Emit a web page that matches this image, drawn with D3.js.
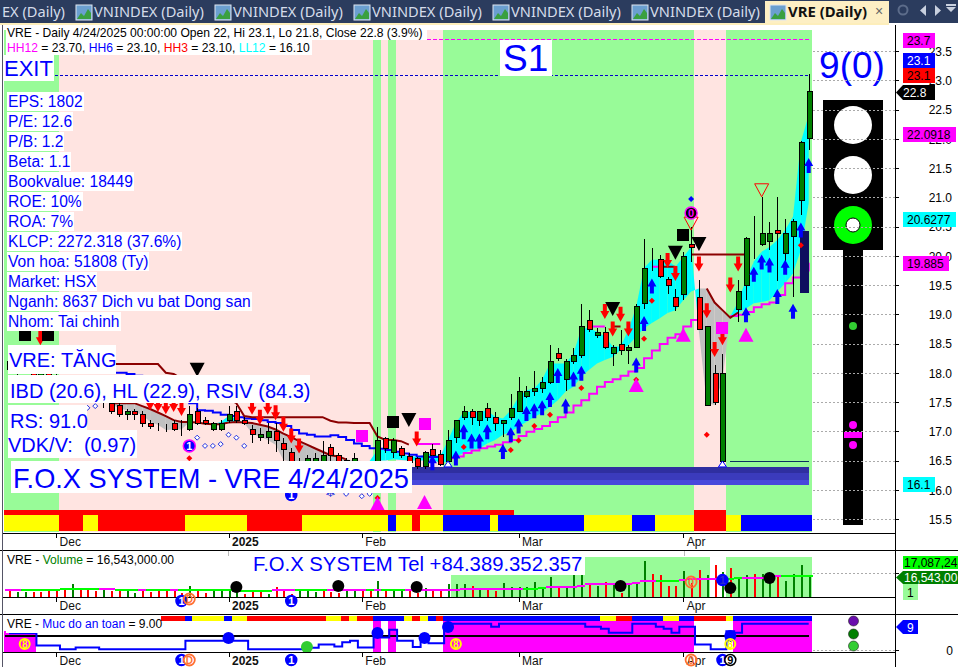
<!DOCTYPE html>
<html><head><meta charset="utf-8">
<script src="https://cdnjs.cloudflare.com/ajax/libs/d3/7.8.5/d3.min.js"></script>
<style>
html,body{margin:0;padding:0;background:#fff;overflow:hidden}
svg{display:block}
text{font-family:"Liberation Sans",Arial,sans-serif;white-space:pre}
</style></head><body>
<svg id="c" width="958" height="667" xmlns="http://www.w3.org/2000/svg"></svg>
<script>
// ---------- price series, oldest bar first (103 daily bars, 4/24/2025 is the last) ----------
const opens=[18.2,18.1,18.2,18.1,17.95,18.05,17.85,17.75,17.85,17.7,17.6,17.7,17.55,
17.48,17.44,17.29,17.34,17.29,17.14,17.03,17.03,17.14,17.03,17.03,17.34,17.19,17.03,17.03,17.19,17.34,17.19,17.03,16.9,16.9,17.0,16.79,16.64,16.45,16.38,16.38,16.38,16.72,16.58,16.5,16.4,16.45,16.4,
16.48,16.88,16.63,16.7,16.57,16.53,16.39,16.69,16.6,16.48,16.89,17.23,17.34,17.18,17.39,17.24,17.14,17.23,17.33,17.59,17.68,17.73,17.83,18.33,17.88,18.19,18.29,18.9,18.63,18.69,18.33,18.48,18.38,18.43,19.18,19.94,19.94,19.6,19.29,19.33,20.2,19.29,17.44,17.99,16.49,19.24,19.08,19.49,20.3,20.19,20.24,20.43,20.03,20.33,20.94,22];
const highs=[18.3,18.25,18.3,18.2,18.1,18.1,18,17.9,17.95,17.8,17.75,17.8,17.65,
17.55,17.5,17.38,17.38,17.34,17.2,17.14,17.12,17.19,17.2,17.44,17.4,17.24,17.16,17.2,17.44,17.44,17.24,17.1,17.05,17.14,17.14,16.88,16.72,16.55,16.6,16.62,16.83,16.79,16.62,16.55,16.62,16.5,16.5,
17.07,16.91,16.88,16.74,16.62,16.56,16.66,16.78,16.68,17.02,17.19,17.43,17.38,17.34,17.48,17.33,17.19,17.63,17.93,17.77,18.03,17.93,18.47,18.42,18.23,18.42,19.17,19.07,18.76,18.78,18.47,18.73,18.47,19.17,20.29,20.13,20.02,19.63,19.43,20.07,20.5,19.59,18.79,18.13,18.32,19.24,19.59,20.32,20.68,21,20.58,21,20.63,20.63,21.96,23.1];
const lows=[18.0,17.95,18.05,17.9,17.8,17.8,17.7,17.65,17.6,17.55,17.5,17.5,17.4,
17.3,17.25,17.2,17.2,17.08,17.04,17.0,16.98,17.0,16.92,17.0,17.1,17.1,17.0,17.0,17.14,17.14,17.1,16.8,16.83,16.79,16.65,16.5,16.4,16.3,16.3,16.3,16.3,16.5,16.35,16.35,16.35,16.35,16.3,
16.4,16.63,16.55,16.55,16.4,16.35,16.36,16.55,16.4,16.4,16.8,17.19,17.1,17.09,17.18,17.0,16.9,17.19,17.33,17.56,17.61,17.66,17.8,18.2,17.69,18.15,18.26,18.7,18.6,18.4,18.11,18.3,18.15,18.43,19.09,19.74,19.62,19.35,19.05,19.24,19.89,18.74,17.44,17.45,16.41,19.24,18.86,19.24,19.94,20.16,20.1,19.56,19.9,19.3,20.7,21.8];
const closes=[18.05,18.2,18.1,17.95,18.05,17.85,17.75,17.85,17.7,17.6,17.7,17.55,17.5,
17.34,17.29,17.34,17.29,17.14,17.08,17.03,17.03,17.03,17.03,17.29,17.14,17.14,17.14,17.14,17.29,17.19,17.14,16.95,16.95,17.0,16.85,16.69,16.48,16.38,16.54,16.54,16.58,16.58,16.42,16.4,16.54,16.42,16.45,
16.84,16.7,16.84,16.58,16.47,16.39,16.63,16.58,16.43,16.85,17.19,17.34,17.23,17.34,17.23,17.13,17.19,17.39,17.68,17.68,17.73,17.84,18.2,18.24,18.2,18.3,18.79,18.74,18.69,18.43,18.44,18.38,18.43,19.13,19.79,19.94,19.64,19.49,19.13,19.99,20.14,18.74,18.79,17.49,17.99,19.24,19.39,20.3,20.3,20.38,20.38,20.38,20.38,20.59,21.94,22.8];
// ribbon: fast and slow averages from bar 13 on
const ribFast=[null,null,null,null,null,null,null,null,null,null,null,null,null,
17.48,17.39,17.36,17.33,17.28,17.16,17.11,17.02,17.03,17.03,17.16,17.15,17.13,17.12,17.16,17.26,17.22,17.14,16.96,16.91,16.85,16.77,16.51,16.48,16.48,16.48,16.48,16.48,16.48,16.48,16.48,16.48,16.48,16.49,
16.68,16.68,16.65,16.62,16.57,16.57,16.59,16.63,16.57,16.85,17.14,17.33,17.33,17.33,17.36,17.25,17.22,17.36,17.59,17.7,17.73,17.88,18.16,18.16,18.16,18.33,18.76,18.76,18.7,18.62,18.45,18.45,18.73,19.13,19.79,19.93,19.93,19.93,19.81,19.98,20.15,18.7,17.48,17.45,17.88,18.97,19.21,19.59,19.9,20.07,20.15,20.27,20.44,20.67,21.95,22.4];
const ribSlow=[null,null,null,null,null,null,null,null,null,null,null,null,null,
17.48,17.48,17.48,17.48,17.43,17.38,17.32,17.26,17.19,17.16,17.16,17.15,17.13,17.12,17.12,17.15,17.16,17.15,17.14,17.11,17.08,17.03,16.96,16.9,16.83,16.77,16.71,16.65,16.59,16.57,16.52,16.5,16.49,16.48,
16.5,16.5,16.52,16.51,16.5,16.5,16.5,16.51,16.46,16.48,16.57,16.63,16.68,16.71,16.79,16.85,16.94,16.99,17.08,17.16,17.25,17.31,17.42,17.53,17.68,17.76,17.93,18.05,18.16,18.22,18.27,18.39,18.47,18.62,18.76,18.85,18.93,19.02,19.07,19.24,19.39,19.44,19.44,19.2,19.07,18.94,19.03,19.1,19.19,19.21,19.24,19.39,19.53,19.7,20.1,20.9];
const slowRedRuns=[[13,43],[89,93]];
// step lines
const stopLine=[18.15,18.15,18.15,18.15,18.15,18.15,18.15,18.15,18.15,18.15,18.15,18.15,18.15,
18.15,18.15,18.15,18.15,18.15,18.15,18.15,18.0,17.98,17.9,17.8,17.75,17.7,17.65,17.6,17.55,17.48,17.26,17.24,17.24,17.24,17.24,17.24,17.24,17.24,17.24,17.24,17.24,17.18,17.15,17.15,17.14,17.14,17.14,
16.91,16.85,16.85,16.83,16.77,null,null,null,null,null,null,null,null,null,null,null,null,null,null,null,null,null,null,null,null,null,null,null,null,null,18.79,18.79,null,null,null,null,19.81,19.81,19.81,null,20.02,20.02,20.02,20.02,20.02,20.02,20.02,20.02,null,null,null,null,null,null,null,null];
const stepMagenta=[null,null,null,null,null,null,null,null,null,null,null,null,null,null,null,null,null,null,null,null,null,null,null,null,null,null,null,null,null,null,null,null,null,null,null,null,null,null,null,null,null,null,null,null,null,null,null,
null,null,null,null,null,16.78,16.78,16.78,16.78,null,null,null,null,null,null,null,null,null,null,null,null,null,null,null,null,null,null,18.79,18.79,18.79,null,null,null,null,null,19.81,19.81,null,null,null,null,null,null,null,null,null,null,null,null,null,null,null,null,null,null,null];
const trailMagenta=[null,null,null,null,null,null,null,null,null,null,null,null,null,null,null,null,null,null,null,null,null,null,null,null,null,null,null,null,null,null,null,null,null,null,null,null,null,null,null,null,null,null,null,null,null,null,null,
null,null,null,null,null,null,null,null,null,16.54,16.57,16.63,16.67,16.71,16.74,16.77,16.81,16.85,16.92,16.99,17.04,17.09,17.16,17.24,17.32,17.44,17.53,17.64,17.76,17.84,17.89,17.95,18.02,18.08,18.25,18.38,18.49,18.6,18.66,18.79,18.9,18.95,null,null,null,18.97,18.99,19.04,19.12,19.17,19.2,19.33,19.53,19.63,19.75,19.88];
const blueLine=[18,18,18,18,18,18,18,18,18,18,18,18,18,18,18,17.98,17.95,17.9,17.85,17.8,17.72,17.63,17.55,17.48,17.36,17.35,17.32,17.28,17.26,17.24,17.22,17.21,17.19,17.16,17.14,17.09,17.02,16.96,16.94,16.91,16.91,16.93,16.9,16.85,16.79,16.75,16.71,
16.7,16.68,16.65,16.62,16.6,16.57,16.56,16.56,16.56];
// volume, millions
const volumes=[5,4.1,4.1,4.1,4.1,6.6,5.8,5.8,10.7,5.8,5.8,4.9,6.6,5,5,5.8,3.3,5.8,4.1,5.8,5.8,5,3.3,9.1,5.8,3.3,5.8,5.8,5.8,5.8,2.5,5,4.1,2.5,8.3,5.8,2.5,6.6,6.6,
4.1,6.6,3.8,3.3,6.6,5,5,6.6,13.2,6.6,5.8,6.6,6.6,3.3,7.4,6.6,6.6,10.7,10.7,10.7,9.1,7.4,5.8,5,11.6,8.3,8.3,8.3,12.4,8.3,16.5,8.3,8.3,18.2,18.2,11.6,9.1,12.4,11.6,
3.6,11.3,10.7,29.8,19,18.2,9,9,21.5,11.3,22.3,18.2,26.4,20.4,23.7,15.5,18.2,18.8,18.8,11.6,18.2,13.2,18.8,26.4,16.5];
const volUpFlags=[0,1,1,0,0,0,0,0,1,0,0,0,1,0,0,1,1,0,0,0,0,0,0,1,0,0,1,1,1,1,0,0,0,1,0,0,0,1,1,
1,0,0,0,1,1,0,0,1,0,1,1,0,0,1,0,0,1,1,1,0,1,0,0,1,1,1,1,1,1,1,0,1,1,1,0,1,0,1,0,1,1,1,0,0,0,0,1,0,0,1,0,1,0,1,1,0,1,1,0,1,1,1,1];
const volMA=[5.5,5.5,5.5,5.7,5.9,5.9,6,6.2,6.4,6.4,6.6,6.8,6.8,6.6,5.9,5.7,5.7,5.7,6,6,5.9,5.7,5.9,6,6,6,6,6,6,5.2,5.2,5.2,5.2,5.2,5.7,5.7,5.7,5.7,5.9,6,6,6,6,6,6,5.9,5.9,
6,5.9,6,6,6,6,5.9,5.9,5.9,5.9,6,6.2,6.6,6.6,6.6,6.6,6.6,6.6,6.8,6.8,6.8,7.1,8.3,8.3,8.3,8.3,9.5,10.7,10.7,10.7,10.7,10.7,10.7,11.5,13.2,13.4,13.4,13.5,13.5,14,14.5,14.5,15,15,15,15,15.5,16,16,16,16,17.6,17.3,17.1,17.1,17.09];
const maGreenRuns=[[2,8],[9,11],[14,16],[18,20],[22,28],[30,33],[37,40],[46,46],[48,50],[66,68],[83,85],[92,93],[99,102]];
// safety level pane
const safety=[5.8,5.8,5.8,5.8,1.7,1.7,1.7,0.5,0.5,1.1,1.1,1.1,0.5,0.5,0.5,0.5,0.5,0.5,0.5,0.5,0.5,0.5,0.5,3.3,3.3,3.3,3.3,3.3,3.3,3.3,3.3,0.5,0.5,0.5,0.5,0.5,0.5,0.5,1,1,2.1,2.1,1.4,2.8,3.3,1.1,1.1,5.8,4.4,7,3.3,3.3,1.2,4.4,2.5,2.5,
9,9,9,9,9,9,8,9,9,9,9,9,9,9,9,9,9,9,8,8,7.3,6,6,6,9,9,9,8,7.3,6,8,8,2.1,2.1,0.45,0.45,6.5,6,9,9,9,9,9,9,9,9,9];
const safetyLevel=5;
// band runs: [from, to, colour name], edges between bars
const bgRuns=[[-1,6,"g"],[6,46,"p"],[46,47,"g"],[47,48,"p"],[48,49,"g"],[49,55,"p"],[55,87,"g"],[87,91,"p"],[91,102,"g"]];
const strip1=[[-1,64,"r"],[87,91,"r"]];
const strip2=[[-1,6,"y"],[6,9,"r"],[9,11,"y"],[11,22,"r"],[22,30,"y"],[30,37,"r"],[37,48,"y"],[48,49,"b"],[49,51,"y"],[51,52,"r"],[52,55,"y"],[55,61,"b"],[61,62,"y"],[62,73,"b"],[73,79,"y"],[79,82,"b"],[82,87,"y"],[87,91,"r"],[91,93,"y"],[93,102,"b"]];
const strip3=[[19,22,"r"],[22,23,"b"],[23,27,"y"],[27,28,"b"],[28,30,"y"],[30,40,"r"],[40,42,"y"],[42,43,"r"],[43,44,"y"],[44,46,"r"],[46,50,"b"],[50,51,"y"],[51,52,"r"],[52,53,"y"],[53,54,"b"],[54,55,"r"],[55,75,"b"],[75,77,"y"],[77,79,"r"],[79,83,"b"],[83,85,"y"],[85,87,"b"],[87,91,"r"],[91,92,"y"],[92,102,"b"]];
const volBgRuns=[[56,89],[91,102]];
const safetyFillRuns=[[-1,3,6.5],[46,47,10],[48,49,10],[55,87,10],[92,102,10]];
// markers: [bars ago, value]
const upArrows=[[48,16.59],[45,16.67],[44,17.12],[43,16.96],[42,16.96],[41,17.12],[39,16.78],[38,17.07],[37,17.22],[36,17.43],[35,17.48],[34,17.53],[33,17.67],[32,18.08],[31,17.56],[30,18.02],[29,18.12],[22,18.26],[21,18.97],[20,19.61],[8,19.12],[7,19.81],[6,20.02],[5,19.97],[4,19.43],[3,19.93],[2,19.18],[1,20.57],[0,21.67]];
const downArrows=[[98,18.47],[84,17.36],[83,17.33],[82,17.29],[81,17.33],[80,17.26],[71,17.28],[70,17.11],[69,17.28],[68,17.19],[67,16.99],[66,16.79],[65,16.62],[50,16.74],[26,18.92],[25,18.62],[24,18.87],[23,18.62],[18,19.79],[17,19.57],[14,19.73],[13,18.93],[12,18.27],[11,18.47],[10,19.37],[9,19.73]];
const redDots=[[79,16.54],[55,15.86],[44,16.73],[38,16.68],[37,16.84],[35,17.09],[33,17.28],[29,17.74],[22,17.88],[21,18.58],[20,19.23],[13,16.94],[1,20.18]];
const hollowDiamonds=[[92,17.4],[91,17.43],[79,16.78],[78,16.89],[77,16.75],[76,16.75],[75,16.78],[74,16.94],[73,16.89],[72,16.75],[59,15.93],[57,15.89],[56,15.93]];
const blackDown=[[78,18.17],[51,17.31],[25,19.21],[17,20.17],[14,20.32]];
const blackSquares=[[100,18.65],[97,18.65],[53,17.16],[16,20.35]];
const magentaSquares=[[57,16.92],[49,17.12],[11,18.77]];
const magentaUp=[[55,15.64],[49,15.67],[22,17.67],[16,18.53],[8,18.53]];
const redHollowDown=[[15,20.66],[6,21.23]];
const volDots=[[73,8.3],[60,9],[50,8.3],[24,9.1],[10,7.4],[5,15.7]];
const safetyBlue=[[74,4.2],[55,5.9],[49,4.2],[46,7.9],[10,4.9]];
const safetyEight=[[100,2.2],[45,2.2],[10,2.2]];
// axis
const priceTicks=[15.5,16,16.5,17,17.5,18,18.5,19,19.5,20,20.5,21,21.5,22,22.5,23,23.5];
const monthBars=[6,28,45,65,86];
const monthLabels=["Dec","2025","Feb","Mar","Apr"];
const infoRows=["EPS: 1802","P/E: 12.6","P/B: 1.2","Beta: 1.1","Bookvalue: 18449","ROE: 10%","ROA: 7%","KLCP: 2272.318 (37.6%)","Von hoa: 51808 (Ty)","Market: HSX","Nganh: 8637 Dich vu bat Dong san","Nhom: Tai chinh"];
const tabLabels=["VNINDEX (Daily)","VNINDEX (Daily)","VNINDEX (Daily)","VNINDEX (Daily)","VNINDEX (Daily)"];

const N=opens.length;
const pal={g:"#98fb98",p:"#ffe4e1",r:"#ff0000",y:"#ffff00",b:"#0000ff"};
const svg=d3.select("#c");
const x=d3.scaleLinear().domain([0,102]).range([9,808.7]);
const ago=k=>x(102-k);
const edge=e=>x(e+0.4);
const yP=d3.scaleLinear().domain([15.5,23.5]).range([519,51]);
const yV=d3.scaleLinear().domain([0,10]).range([597,584.9]);
const yS=d3.scaleLinear().domain([0,9]).range([650.7,623.7]);
const L=(g,x1,y1,x2,y2,c,w,dash)=>g.append("line").attr("x1",x1).attr("y1",y1).attr("x2",x2).attr("y2",y2).attr("stroke",c).attr("stroke-width",w||1).attr("stroke-dasharray",dash||null).attr("shape-rendering","crispEdges");
const T=(g,s,tx,ty,size,fill,opts={})=>g.append("text").attr("x",tx).attr("y",ty).attr("font-size",size).attr("fill",fill).attr("font-weight",opts.bold?"bold":null).attr("text-anchor",opts.anchor||"start").attr("xml:space","preserve").text(s);
const crisp=s=>s.attr("shape-rendering","crispEdges");

function runs(g,data,y,h){crisp(g.selectAll(null).data(data).join("rect").attr("x",d=>edge(d[0])).attr("width",d=>edge(d[1])-edge(d[0])).attr("y",y).attr("height",h).attr("fill",d=>pal[d[2]]));}

// ---------- main pane ----------
const main=svg.append("g");
runs(main,bgRuns,30,502);
// ribbon
const ribG=main.append("g");
const idx=d3.range(N);
const area=d3.area().x(i=>x(i)).y0(i=>yP(ribFast[i])).y1(i=>yP(ribSlow[i]));
idx.slice(0,-1).forEach(i=>{
  if(ribFast[i]==null||ribFast[i+1]==null)return;
  const up=(ribFast[i]+ribFast[i+1])>=(ribSlow[i]+ribSlow[i+1]);
  ribG.append("path").attr("d",area([i,i+1])).attr("fill",up?"#00ffff":"#c0c0c0");
});
// lines
const lineOf=(arr,curve)=>d3.line().defined(i=>arr[i]!=null).x(i=>x(i)).y(i=>yP(arr[i])).curve(curve||d3.curveStepAfter);
const linesG=main.append("g").attr("fill","none");
linesG.append("path").attr("d",lineOf(blueLine)(d3.range(blueLine.length))).attr("stroke","#0000ff").attr("stroke-width",2);
linesG.append("path").attr("d",lineOf(trailMagenta)(idx)).attr("stroke","#ff00ff").attr("stroke-width",2);
slowRedRuns.forEach(r=>linesG.append("path").attr("d",d3.line().x(i=>x(i)).y(i=>yP(ribSlow[i])).curve(d3.curveLinear)(d3.range(r[0],r[1]+1))).attr("stroke","#8b0000").attr("stroke-width",2));
linesG.append("path").attr("d",d3.line().defined(i=>stopLine[i]!=null).x(i=>x(i)).y(i=>yP(stopLine[i])).curve(d3.curveLinear)(idx)).attr("stroke","#8b0000").attr("stroke-width",2);
linesG.append("path").attr("d",d3.line().defined(i=>stepMagenta[i]!=null).x(i=>x(i)).y(i=>yP(stepMagenta[i])).curve(d3.curveLinear)(idx)).attr("stroke","#ff00ff").attr("stroke-width",2);
// dashed levels and band
L(main,313,Math.round(yP(23.7))+.5,810,Math.round(yP(23.7))+.5,"#ff00ff",1.5,"4,2");
L(main,55,Math.round(yP(23.1))+1.5,808,Math.round(yP(23.1))+1.5,"#0000cc",1,"3,2");
L(main,730,yP(16.49),809,yP(16.49),"#0b3060",1);
const bandColors=["#2f2fa0","#3b3bbc","#4848dc"];
const bandTops=[16.39,16.28,16.17,16.08];
crisp(main.selectAll(null).data(bandColors).join("rect").attr("x",412).attr("width",397).attr("y",(d,i)=>yP(bandTops[i])).attr("height",(d,i)=>yP(bandTops[i+1])-yP(bandTops[i])).attr("fill",d=>d));
crisp(main.append("rect").attr("x",800).attr("width",9).attr("y",yP(20.42)).attr("height",yP(19.36)-yP(20.42)).attr("fill","#0f0f5f"));
// candles
const cG=main.append("g");
crisp(cG.selectAll("line.w").data(idx).join("line").attr("class","w").attr("x1",i=>Math.round(x(i))+.5).attr("x2",i=>Math.round(x(i))+.5).attr("y1",i=>yP(highs[i])).attr("y2",i=>yP(lows[i])).attr("stroke","#000"));
crisp(cG.selectAll("rect.b").data(idx).join("rect").attr("class","b").attr("x",i=>Math.round(x(i))-2).attr("width",5).attr("y",i=>yP(Math.max(opens[i],closes[i]))).attr("height",i=>Math.abs(yP(opens[i])-yP(closes[i]))).attr("fill",i=>closes[i]>opens[i]?"#008000":(closes[i]<opens[i]?"#ff0000":"#000")).attr("stroke","#000"));
// marker shapes
const upPath=(cx,ty)=>`M${cx},${ty}l4.5,8h-2.5v7h-4v-7h-2.5z`;
const downPath=(cx,by)=>`M${cx},${by}l4.5,-8h-2.5v-7h-4v7h-2.5z`;
const mG=main.append("g");
mG.selectAll(null).data(upArrows).join("path").attr("d",d=>upPath(ago(d[0]),yP(d[1]))).attr("fill","#0000ff");
mG.selectAll(null).data(downArrows).join("path").attr("d",d=>downPath(ago(d[0]),yP(d[1]))).attr("fill","#ff0000");
const diamond=(cx,cy,r)=>`M${cx},${cy-r}L${cx+r},${cy}L${cx},${cy+r}L${cx-r},${cy}Z`;
mG.selectAll(null).data(redDots).join("path").attr("d",d=>diamond(ago(d[0]),yP(d[1]),3)).attr("fill","#ff0000");
mG.selectAll(null).data(hollowDiamonds).join("path").attr("d",d=>diamond(ago(d[0]),yP(d[1]),2.5)).attr("fill","#fff").attr("stroke","#2030e0");
mG.selectAll(null).data(blackDown).join("path").attr("d",d=>`M${ago(d[0])-7.5},${yP(d[1])}h15l-7.5,14z`).attr("fill","#000");
crisp(mG.selectAll(null).data(blackSquares).join("rect").attr("x",d=>ago(d[0])-6).attr("y",d=>yP(d[1])-6).attr("width",12).attr("height",12).attr("fill","#000"));
crisp(mG.selectAll(null).data(magentaSquares).join("rect").attr("x",d=>ago(d[0])-6).attr("y",d=>yP(d[1])-6).attr("width",12).attr("height",12).attr("fill","#ff00ff"));
mG.selectAll(null).data(magentaUp).join("path").attr("d",d=>`M${ago(d[0])-7.5},${yP(d[1])}h15l-7.5,-14z`).attr("fill","#ff00ff");
mG.selectAll(null).data(redHollowDown).join("path").attr("d",d=>`M${ago(d[0])-7},${yP(d[1])}h14l-7,13z`).attr("fill","none").attr("stroke","#ff0000");
function badge(g,cx,cy,txt,fill,stroke,color,r){
  g.append("circle").attr("cx",cx).attr("cy",cy).attr("r",r||5.5).attr("fill",fill).attr("stroke",stroke).attr("stroke-width",1.5);
  T(g,txt,cx,cy+4,11,color,{bold:true,anchor:"middle"});
}
mG.append("path").attr("d",diamond(ago(15),yP(20.97),3)).attr("fill","#0000ff");
badge(mG,ago(15),yP(20.73),"0","#000","#ff00ff","#ff00ff",6);
badge(mG,ago(79),yP(16.75),"1","#0000ff","#ff00ff","#fff",6);
badge(mG,ago(66),yP(15.91),"1","#0000ff","#0000ff","#fff");
T(mG,"❄",ago(61),yP(15.87),13,"#2030e0",{anchor:"middle"});
mG.append("path").attr("d",`M${ago(11)-4},${yP(16.39)}l4,-6l4,6z`).attr("fill","#fff").attr("stroke","#0000ff");
mG.append("path").attr("d",`M${ago(46)-4},${yP(16.39)}l4,-6l4,6z`).attr("fill","#fff").attr("stroke","#0000ff");

// strips
runs(main,strip1,510,5);
runs(main,strip2,515,16);

// traffic light
const tl=svg.append("g");
tl.append("rect").attr("x",823).attr("y",100).attr("width",60).attr("height",150).attr("fill","#000");
tl.append("rect").attr("x",843).attr("y",250).attr("width",20).attr("height",275).attr("fill","#000");
tl.append("circle").attr("cx",853).attr("cy",125).attr("r",19).attr("fill","#fff");
tl.append("circle").attr("cx",853).attr("cy",175).attr("r",19).attr("fill","#fff");
tl.append("circle").attr("cx",853).attr("cy",225).attr("r",19).attr("fill","#00ff00");
tl.append("circle").attr("cx",853).attr("cy",225).attr("r",7).attr("fill","#fff").attr("stroke","#000");
tl.append("circle").attr("cx",853).attr("cy",326).attr("r",4).attr("fill","#32cd32");
tl.append("circle").attr("cx",853).attr("cy",425).attr("r",4).attr("fill","#ff00ff");
tl.append("rect").attr("x",844).attr("y",432).attr("width",18).attr("height",6).attr("fill","#ff00ff");
tl.append("circle").attr("cx",853).attr("cy",445).attr("r",4).attr("fill","#ff00ff");
T(svg,"9(0)",852,78,37,"#0000ff",{anchor:"middle"});

// price grid and axis
const gridG=svg.append("g");
priceTicks.forEach(p=>L(gridG,813,Math.round(yP(p))+.5,895,Math.round(yP(p))+.5,"#aaa",1,"2,2"));
const pAxis=svg.append("g").attr("transform","translate(895,0)").call(d3.axisRight(yP).tickValues(priceTicks).tickFormat(d3.format(".1f")).tickSize(4));
pAxis.select(".domain").remove();
pAxis.selectAll("text").attr("x",57).attr("text-anchor","end").attr("font-size",12).attr("font-family",'"Liberation Sans",Arial').attr("fill","#000").attr("dy","0.36em");
pAxis.selectAll("line").attr("stroke","#000").attr("shape-rendering","crispEdges");

// ---------- pane frames ----------
const frame=svg.append("g");
// volume pane
const vol=svg.append("g");
crisp(vol.selectAll(null).data(volBgRuns).join("rect").attr("x",d=>edge(d[0])).attr("width",d=>edge(d[1])-edge(d[0])).attr("y",557).attr("height",40).attr("fill","#98fb98"));
crisp(vol.selectAll(null).data(volumes).join("rect").attr("x",(d,i)=>Math.round(x(i))-.5).attr("width",2).attr("y",d=>yV(d)).attr("height",d=>yV(0)-yV(d)).attr("fill",(d,i)=>volUpFlags[i]?"#008000":"#ff0000"));
const isMaGreen=i=>maGreenRuns.some(r=>i>=r[0]&&i<=r[1]);
crisp(vol.selectAll(null).data(volMA).join("rect").attr("x",(d,i)=>x(i)-3.92).attr("width",7.84).attr("y",d=>yV(d)-1).attr("height",2).attr("fill",(d,i)=>isMaGreen(i)?"#00ff00":"#ff00ff"));
L(vol,813,573.5,895,573.5,"#aaa",1,"2,2");
L(vol,895,573.5,899,573.5,"#000");
[228.5,684.5].forEach(v=>L(vol,v,551,v,556,"#bbb"));
vol.selectAll(null).data(volDots).join("circle").attr("cx",d=>ago(d[0])).attr("cy",d=>yV(d[1])).attr("r",6).attr("fill","#000");
vol.append("circle").attr("cx",ago(15)).attr("cy",yV(12.4)).attr("r",5.5).attr("fill","none").attr("stroke","#ff7030").attr("stroke-width",1.8);
T(vol,"0",ago(15),yV(12.4)+4,11,"#ff7030",{anchor:"middle",bold:true});
badge(vol,ago(11),yV(14),"1","#0000ff","#0000ff","#2a2ad0");

// safety pane
const sp=svg.append("g");
crisp(sp.selectAll(null).data(safetyFillRuns).join("rect").attr("x",d=>edge(d[0])).attr("width",d=>edge(d[1])-edge(d[0])).attr("y",d=>yS(d[2])).attr("height",d=>652-yS(d[2])).attr("fill","#ff00ff"));
runs(sp,strip3,616,5);
L(sp,5,yS(safetyLevel),809,yS(safetyLevel),"#000",2);
sp.append("path").attr("d",d3.line().x(i=>x(i)).y(i=>yS(safety[i])).curve(d3.curveStep)(idx)).attr("fill","none").attr("stroke","#0000ff").attr("stroke-width",2);
sp.selectAll(null).data(safetyBlue).join("circle").attr("cx",d=>ago(d[0])).attr("cy",d=>yS(d[1])).attr("r",6).attr("fill","#0000ff");
sp.append("circle").attr("cx",ago(64)).attr("cy",yS(1.2)).attr("r",6).attr("fill","#32cd32");
safetyEight.forEach(d=>{sp.append("circle").attr("cx",ago(d[0])).attr("cy",yS(d[1])).attr("r",5).attr("fill","none").attr("stroke","#ffff00").attr("stroke-width",2);T(sp,"8",ago(d[0]),yS(d[1])+4,10,"#ffff00",{anchor:"middle",bold:true});});
L(sp,813,650.5,895,650.5,"#aaa",1,"2,2");
L(sp,895,650.5,899,650.5,"#000");
[["#6a0dad",621],["#008000",634],["#32cd32",646]].forEach(d=>sp.append("circle").attr("cx",853.5).attr("cy",d[1]).attr("r",5).attr("fill",d[0]).attr("stroke","#222").attr("stroke-width",.6));

// axes and rules
[533,597,652].forEach((y,pi)=>{
  const g=svg.append("g").attr("transform",`translate(0,${y})`).call(d3.axisBottom(x).tickValues(monthBars).tickFormat((d,i)=>monthLabels[i]).tickSize(5));
  g.select(".domain").remove();
  g.selectAll("text").attr("text-anchor","start").attr("x",3).attr("y",4).attr("dy","0.71em").attr("font-size",12).attr("font-family",'"Liberation Sans",Arial').attr("fill","#111").attr("font-weight",(d,i)=>i==1?"bold":null);
  g.selectAll("line").attr("stroke","#000").attr("shape-rendering","crispEdges");
});
L(frame,3,533,895,533,"#000",1);
L(svg,3,597.5,895,597.5,"#000",1);
L(svg,3,652.5,895,652.5,"#000",1);
L(svg,0,550.5,958,550.5,"#000",1);
L(svg,0,614.5,958,614.5,"#000",1);
L(svg,895.5,25,895.5,667,"#000",1);
L(svg,2.5,25,2.5,667,"#556",1);

// badges under axes
badge(svg,ago(80),601,"1","#0000ff","#0000ff","#fff");
svg.append("circle").attr("cx",ago(79)).attr("cy",599).attr("r",5.5).attr("fill","none").attr("stroke","#ff7030").attr("stroke-width",1.8);
T(svg,"D",ago(79),603,10,"#ff7030",{anchor:"middle",bold:true});
badge(svg,ago(66),601,"1","#0000ff","#0000ff","#fff");
badge(svg,ago(80),660,"1","#0000ff","#0000ff","#fff");
svg.append("circle").attr("cx",ago(79)).attr("cy",660).attr("r",5.5).attr("fill","#fff").attr("stroke","#ff7030").attr("stroke-width",1.8);
T(svg,"D",ago(79),664,10,"#ff7030",{anchor:"middle",bold:true});
badge(svg,ago(66),660,"1","#0000ff","#0000ff","#fff");
svg.append("circle").attr("cx",ago(15)).attr("cy",660).attr("r",5.5).attr("fill","none").attr("stroke","#ff7030").attr("stroke-width",1.8);
T(svg,"0",ago(15),664,11,"#ff7030",{anchor:"middle",bold:true});
badge(svg,ago(11),660,"1","#0000ff","#0000ff","#fff");
badge(svg,ago(10),660,"9","#fff","#000","#000");

// labels with white boxes
function boxed(s,tx,ty,size,x0,y0,x1,y1,fill){
  crisp(svg.append("rect").attr("x",x0).attr("y",y0).attr("width",x1-x0).attr("height",y1-y0).attr("fill","#fff"));
  return T(svg,s,tx,ty,size,fill||"#0000ff");
}
boxed("EXIT",4,76,22,4,55,54,81);
boxed("S1",503,71,37,500,40,552,76);
infoRows.forEach((s,i)=>{
  const ty=107+i*20;
  const r=crisp(svg.append("rect").attr("x",7).attr("y",ty-15).attr("height",19).attr("fill","#fff"));
  const t=T(svg,s,8,ty,15.6,"#0000ff");
  r.attr("width",t.node().getComputedTextLength()+2);
});
boxed("VRE: TĂNG",9,367,20,8,345,116,374);
boxed("IBD (20.6), HL (22.9), RSIV (84.3)",10,398,20,8,375,310,403);
boxed("RS: 91.0",10,428,20,8,405,87,430);
boxed("VDK/V:  (0.97)",8,452,20,8,430,137,458);
boxed("F.O.X SYSTEM - VRE 4/24/2025",13,488,27.2,11,461,412,493);
boxed("F.O.X SYSTEM Tel +84.389.352.357",253,571,20.3,251,554,585,575);

// header texts
crisp(svg.append("rect").attr("x",6).attr("y",26).attr("width",421).attr("height",14).attr("fill","#fff"));
crisp(svg.append("rect").attr("x",6).attr("y",40).attr("width",306).attr("height",15).attr("fill","#fff"));
T(svg,"VRE - Daily 4/24/2025 00:00:00 Open 22, Hi 23.1, Lo 21.8, Close 22.8 (3.9%)",7,37,12.1,"#000");
const hdr=svg.append("text").attr("x",7).attr("y",52).attr("font-size",12.1);
[["HH12","#ff00ff"],[" = 23.70, ","#000"],["HH6","#0000ff"],[" = 23.10, ","#000"],["HH3","#ff0000"],[" = 23.10, ","#000"],["LL12","#00ffff"],[" = 16.10","#000"]].forEach(d=>hdr.append("tspan").attr("fill",d[1]).attr("xml:space","preserve").text(d[0]));
crisp(svg.append("rect").attr("x",6).attr("y",553).attr("width",171).attr("height",15).attr("fill","#fff"));
const vh=svg.append("text").attr("x",7).attr("y",564).attr("font-size",12.1);
[["VRE - ","#000"],["Volume","#008000"],[" = 16,543,000.00","#000"]].forEach(d=>vh.append("tspan").attr("fill",d[1]).attr("xml:space","preserve").text(d[0]));
crisp(svg.append("rect").attr("x",6).attr("y",617).attr("width",155).attr("height",16).attr("fill","#fff"));
const sh=svg.append("text").attr("x",7).attr("y",627.5).attr("font-size",12);
[["VRE - ","#000"],["Muc do an toan","#0000ff"],[" = 9.00","#000"]].forEach(d=>sh.append("tspan").attr("fill",d[1]).attr("xml:space","preserve").text(d[0]));

// right tags
const tags=[["23.7",903,935,33,48,"#ff00ff","#000"],["23.1",903,935,53,68,"#0000ff","#fff"],["23.1",903,935,68,83,"#ff0000","#000"],["22.0918",903,956,127,142,"#ff00ff","#000"],["20.6277",903,956,212,227,"#00ffff","#000"],["19.885",903,949,256,271,"#ff00ff","#000"],["16.1",903,935,477,492,"#00ffff","#000"],
["17,087,24",903,958,556,569,"#00ff00","#000"],["1",903,918,584,600,"#98fb98","#000"]];
tags.forEach(t=>{crisp(svg.append("rect").attr("x",t[1]).attr("width",t[2]-t[1]).attr("y",t[3]).attr("height",t[4]-t[3]).attr("fill",t[5]));T(svg,t[0],t[0].length>8?t[1]+1:t[1]+4,(t[3]+t[4])/2+4.5,12,t[6]);});
const arrowTags=[["22.8",896,935,85,100,"#000","#fff",903],["16,543,00",896,958,571,584,"#008000","#fff",904],["9",896,918,620,634,"#0000ff","#fff",907]];
arrowTags.forEach(t=>{svg.append("path").attr("d",`M${t[1]},${(t[3]+t[4])/2}L${t[1]+7},${t[3]}H${t[2]}V${t[4]}H${t[1]+7}Z`).attr("fill",t[5]);T(svg,t[0],t[7],(t[3]+t[4])/2+4.5,12,t[6]);});
T(svg,"0",953,654.5,12,"#000",{anchor:"end"});

// tab bar
const bar=svg.append("g");
crisp(bar.append("rect").attr("x",0).attr("y",0).attr("width",958).attr("height",23).attr("fill","#2b3c5e"));
crisp(bar.append("rect").attr("x",0).attr("y",23).attr("width",889).attr("height",2).attr("fill","#fdeebb"));
crisp(bar.append("rect").attr("x",765).attr("y",1).attr("width",124).attr("height",22).attr("fill","#fdefc4"));
const icon=(ix)=>{bar.append("rect").attr("x",ix).attr("y",5).attr("width",16).attr("height",15).attr("fill","#6b9fd0").attr("stroke","#dfe6f0");
  bar.append("path").attr("d",`M${ix+1},19l4,-6l3,3l4,-7l3,4v6z`).attr("fill","#3aa040");};
bar.append("text").attr("x",2).attr("y",17).attr("font-size",14).attr("style","font-family:'Noto Sans'").attr("fill","#d5dcea").attr("textLength",63).attr("lengthAdjust","spacingAndGlyphs").text("EX (Daily)");
tabLabels.forEach((s,i)=>{const ix=76+i*139;icon(ix);
  bar.append("text").attr("x",ix+18).attr("y",17).attr("font-size",14).attr("style","font-family:'Noto Sans'").attr("fill","#d5dcea").attr("textLength",110).attr("lengthAdjust","spacingAndGlyphs").text(s);});
icon(770);
bar.append("text").attr("x",788).attr("y",17).attr("font-size",14).attr("font-weight","bold").attr("style","font-family:'Noto Sans'").attr("fill","#111").attr("textLength",79).attr("lengthAdjust","spacingAndGlyphs").text("VRE (Daily)");
bar.append("text").attr("x",879).attr("y",16).attr("font-size",14).attr("text-anchor","middle").attr("fill","#666").text("×");
bar.append("circle").attr("cx",903).attr("cy",10).attr("r",4.5).attr("fill","none").attr("stroke","#5c6c8a").attr("stroke-width",2);
bar.append("path").attr("d","M926,5v11l-6,-5.5z M935,5v11l6,-5.5z M946,7h10l-5,5z").attr("fill","#c8d0de");
L(bar,946,4.5,956,4.5,"#c8d0de",2);
</script>
</body></html>
